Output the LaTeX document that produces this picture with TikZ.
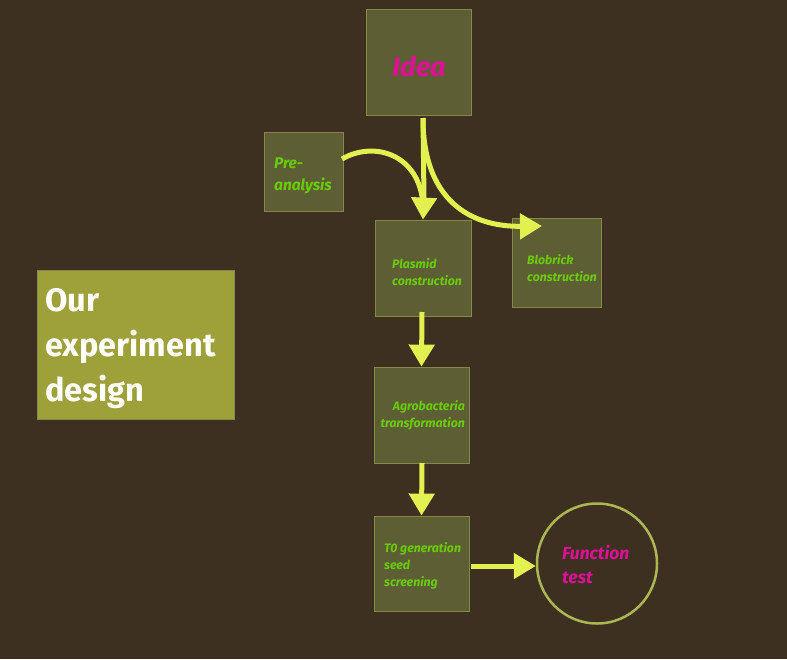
\documentclass[tikz,border=0pt]{standalone}
\usepackage{fontspec}
\setmainfont{Fira Sans}
\usetikzlibrary{arrows.meta}
\definecolor{bg}{RGB}{61,48,32}
\definecolor{boxfill}{RGB}{94,94,53}
\definecolor{boxline}{RGB}{130,138,70}
\definecolor{gtext}{RGB}{104,204,0}
\definecolor{mag}{RGB}{222,16,150}
\definecolor{arr}{RGB}{226,240,80}
\definecolor{bigfill}{RGB}{158,160,58}
\definecolor{circline}{RGB}{172,182,82}
\tikzset{
  stepbox/.style={draw=boxline, line width=0.8pt, fill=boxfill, inner sep=0pt},
  glabel/.style={text=gtext, font=\itshape\bfseries\fontsize{12.3}{17}\selectfont, inner sep=0pt, anchor=north west, align=left},
  flow/.style={draw=arr, line width=5pt, -{Triangle[width=25pt,length=22pt]}},
  flowplain/.style={draw=arr, line width=5pt},
}
\begin{document}
\begin{tikzpicture}[x=1pt,y=-1pt]
\fill[bg] (0,0) rectangle (787,659);
\useasboundingbox (0,0) rectangle (787,659);
% boxes
\node[stepbox, minimum width=105pt, minimum height=106pt] (idea) at (418.5,62) {};
\node[stepbox, minimum width=79pt, minimum height=79pt] (pre) at (303.5,171.5) {};
\node[stepbox, minimum width=96pt, minimum height=96pt] (plasmid) at (423,268) {};
\node[stepbox, minimum width=89pt, minimum height=89pt] (bio) at (556.5,262.5) {};
\node[stepbox, minimum width=95pt, minimum height=96pt] (agro) at (421.5,415) {};
\node[stepbox, minimum width=95pt, minimum height=95pt] (t0) at (421.5,563.5) {};
\node[draw=circline, line width=2.5pt, circle, minimum size=120pt, inner sep=0pt] (func) at (597,563.5) {};
\node[fill=bigfill, draw=boxline, line width=0.5pt, minimum width=197pt, minimum height=149pt, inner sep=0pt] (our) at (135.5,344.5) {};
% texts
\node[text=mag, font=\itshape\bfseries\fontsize{27}{30}\selectfont, inner sep=0pt] (ideat) at (419,66) {Idea};
\node[glabel, font=\itshape\bfseries\fontsize{15.5}{22}\selectfont] (pret) at (274,158) {Pre-\\analysis};
\node[glabel] (plast) at (392,258) {Plasmid\\construction};
\node[glabel] (biot) at (527,254) {Blobrick\\construction};
\node[glabel, align=right, anchor=north east] (agrot) at (465,400) {Agrobacteria\\transformation};
\node[glabel] (t0t) at (384,542) {T0 generation\\seed\\screening};
\node[text=mag, font=\itshape\bfseries\fontsize{17.5}{24}\selectfont, inner sep=0pt, anchor=north west, align=left] (funct) at (562,545) {Function\\test};
\node[text=white, font=\bfseries\fontsize{32.5}{45}\selectfont, inner sep=0pt, anchor=north west, align=left] (ourt) at (45,288) {Our\\experiment\\design};
% connectors
\coordinate (ideab) at (423,118);
\coordinate (prer) at (342,159);
\coordinate (t0e) at (471,566);
\draw[flowplain] (prer) .. controls (375,140) and (420,155) .. (423,205);
\draw[flow] (ideab) -- (424,199) -- (plasmid.north);
\draw[flow] (ideab) .. controls (423,200) and (470,227) .. (542,226);
\draw[flow] (422,312) -- (agro.north);
\draw[flow] (422,463) -- (t0.north);
\draw[flow] (t0e) -- (t0e -| func.west);
\end{tikzpicture}
\end{document}
